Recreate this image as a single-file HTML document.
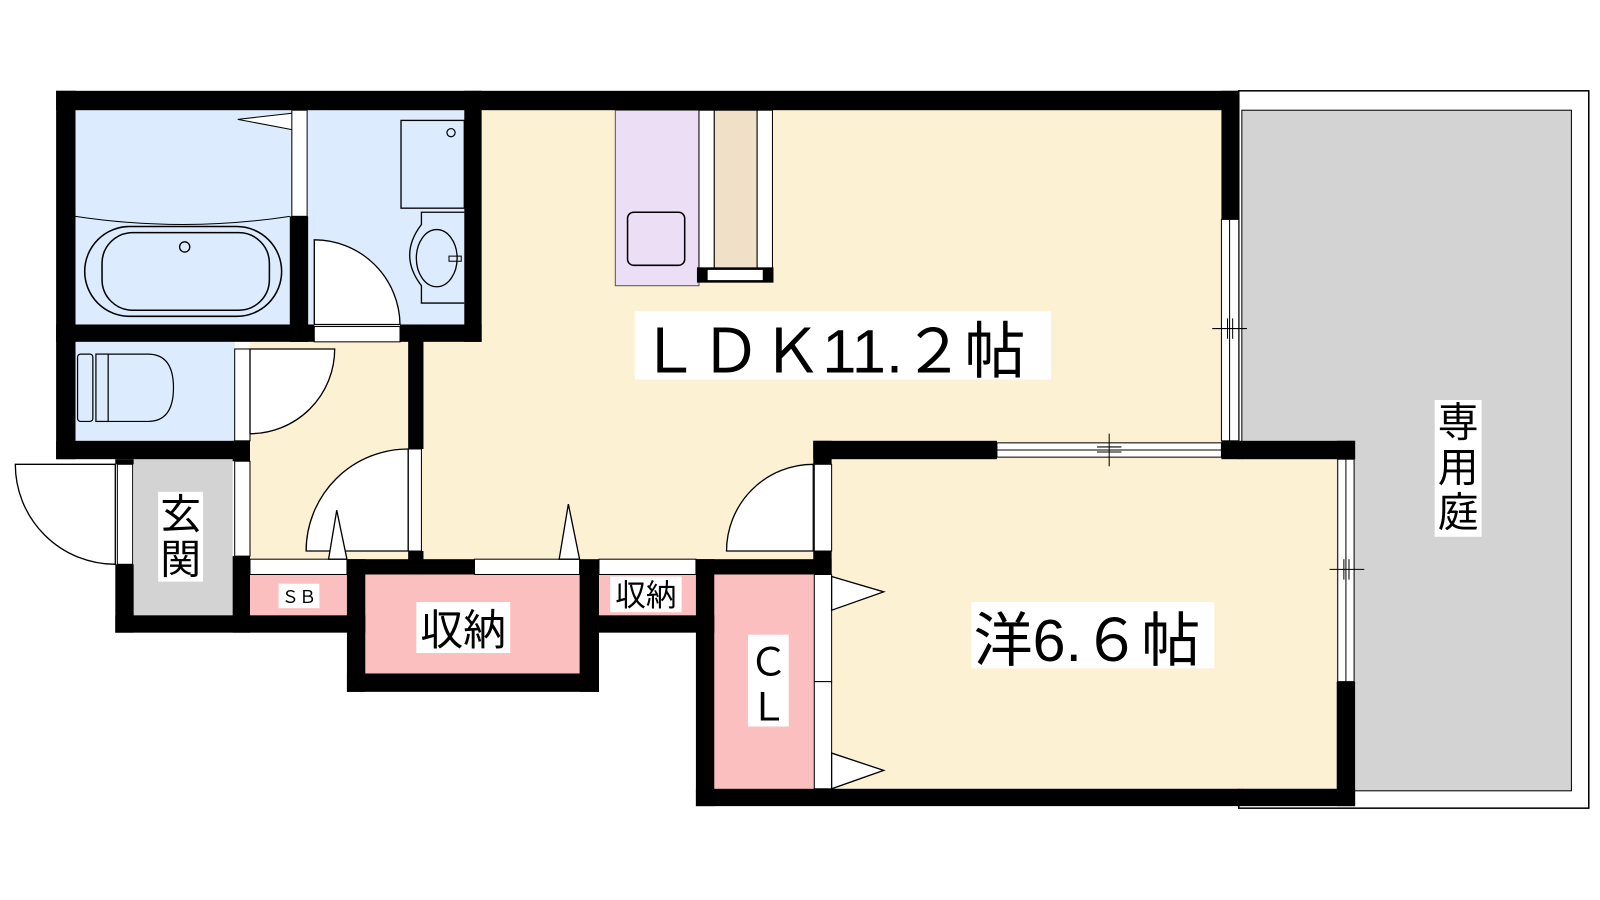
<!DOCTYPE html>
<html><head><meta charset="utf-8"><style>
html,body{margin:0;padding:0;background:#fff;width:1600px;height:900px;overflow:hidden}
svg{display:block}
text{font-family:"Liberation Sans","Noto Sans CJK JP",sans-serif;fill:#000}
</style></head><body>
<svg width="1600" height="900" viewBox="0 0 1568 882" preserveAspectRatio="none">
<!-- garden -->
<rect x="1214" y="89" width="343" height="703" fill="#fff" stroke="#000" stroke-width="1.5"/>
<rect x="1217" y="108" width="323" height="667" fill="#d3d3d3" stroke="#000" stroke-width="1"/>
<!-- floors -->
<rect x="74" y="108" width="212" height="210" fill="#dcebfd"/>
<rect x="302" y="108" width="153" height="210" fill="#dcebfd"/>
<rect x="74" y="335" width="156" height="97" fill="#dcebfd"/>
<rect x="245" y="335" width="170" height="213" fill="#fdf1d3"/>
<rect x="472" y="108" width="725" height="440" fill="#fdf1d3"/>
<rect x="415" y="335" width="60" height="213" fill="#fdf1d3"/>
<rect x="815" y="450" width="495" height="323" fill="#fdf1d3"/>
<rect x="131" y="450" width="97" height="153" fill="#d3d3d3"/>
<rect x="245" y="563" width="95" height="40" fill="#fbbfbf"/>
<rect x="358" y="563" width="210" height="97" fill="#fbbfbf"/>
<rect x="587" y="563" width="95" height="40" fill="#fbbfbf"/>
<rect x="700" y="563" width="98" height="210" fill="#fbbfbf"/>
<!-- kitchen -->
<rect x="603" y="108" width="82" height="172" fill="#ecdff5" stroke="#555" stroke-width="1"/>
<rect x="615" y="208" width="56" height="52" rx="6" fill="#ecdff5" stroke="#000" stroke-width="1.5"/>
<rect x="685" y="108" width="15" height="155" fill="#fff" stroke="#000"/>
<rect x="700" y="108" width="42" height="155" fill="#f1e0c8" stroke="#000"/>
<rect x="742" y="108" width="15" height="155" fill="#fff" stroke="#000"/>
<rect x="683" y="262" width="75" height="15" fill="#000"/>
<rect x="693" y="264" width="55" height="11" fill="#fff" stroke="#000"/>
<!-- bath fixtures -->
<path d="M74 212 Q180 228 284 212" fill="none" stroke="#000" stroke-width="1"/>
<rect x="83" y="222" width="193" height="88" rx="44" fill="none" stroke="#000" stroke-width="1.5"/>
<rect x="100" y="228" width="164" height="76" rx="30" fill="none" stroke="#000" stroke-width="1.5"/>
<circle cx="181" cy="242" r="5" fill="none" stroke="#000" stroke-width="1.3"/>
<path d="M286 111 L233 117 L286 127" fill="#fff" stroke="#000" stroke-width="1"/>
<rect x="286" y="108" width="15" height="104" fill="#fff" stroke="#000"/>
<rect x="393" y="118" width="62" height="86" fill="none" stroke="#000" stroke-width="1.3"/>
<circle cx="442" cy="130" r="4" fill="none" stroke="#000" stroke-width="1.2"/>
<path d="M455 208 L413 208 L413 220 Q390 250 413 280 L413 297 L455 297" fill="none" stroke="#000" stroke-width="1.3"/>
<ellipse cx="428" cy="253" rx="20" ry="28" fill="none" stroke="#000" stroke-width="1.3"/>
<rect x="440" y="251" width="12" height="5" fill="none" stroke="#000"/>
<!-- toilet -->
<rect x="76" y="347" width="15" height="66" rx="3" fill="none" stroke="#000" stroke-width="1.2"/>
<rect x="94" y="347" width="12" height="66" fill="none" stroke="#000" stroke-width="1.2"/>
<path d="M106 347 L145 347 Q170 347 170 380 Q170 413 145 413 L106 413" fill="none" stroke="#000" stroke-width="1.2"/>
<!-- walls -->
<g fill="#000">
<rect x="55" y="89" width="1159" height="19"/>
<rect x="55" y="89" width="19" height="361"/>
<rect x="284" y="212" width="18" height="123"/>
<rect x="455" y="89" width="17" height="246"/>
<rect x="55" y="318" width="253" height="17"/>
<rect x="392" y="318" width="80" height="17"/>
<rect x="400" y="318" width="15" height="122"/>
<rect x="55" y="432" width="190" height="18"/>
<rect x="228" y="432" width="17" height="20"/>
<rect x="113" y="450" width="18" height="5"/>
<rect x="113" y="553" width="18" height="67"/>
<rect x="228" y="545" width="17" height="75"/>
<rect x="113" y="603" width="245" height="17"/>
<rect x="400" y="540" width="15" height="23"/>
<rect x="340" y="548" width="125" height="15"/>
<rect x="340" y="548" width="18" height="130"/>
<rect x="340" y="660" width="247" height="18"/>
<rect x="568" y="548" width="19" height="130"/>
<rect x="587" y="603" width="113" height="17"/>
<rect x="682" y="548" width="133" height="15"/>
<rect x="682" y="548" width="18" height="242"/>
<rect x="682" y="773" width="646" height="17"/>
<rect x="797" y="432" width="180" height="18"/>
<rect x="797" y="432" width="18" height="23"/>
<rect x="797" y="540" width="18" height="23"/>
<rect x="1197" y="432" width="131" height="18"/>
<rect x="1310" y="668" width="18" height="122"/>
<rect x="1310" y="432" width="18" height="18"/>
<rect x="1197" y="89" width="17" height="126"/>
</g>
<!-- door strips -->
<g fill="#fff" stroke="#000" stroke-width="1">
<rect x="308" y="320" width="84" height="15"/>
<rect x="230" y="342" width="15" height="90"/>
<rect x="115" y="455" width="15" height="98"/>
<rect x="230" y="452" width="15" height="93"/>
<rect x="400" y="440" width="13" height="100"/>
<rect x="245" y="548" width="95" height="15"/>
<rect x="465" y="548" width="103" height="15"/>
<rect x="587" y="548" width="95" height="15"/>
<rect x="798" y="455" width="17" height="85"/>
<rect x="798" y="563" width="17" height="105"/>
<rect x="798" y="668" width="17" height="105"/>
<rect x="1197" y="215" width="17" height="217"/>
<rect x="977" y="434" width="220" height="14"/>
<rect x="1311" y="450" width="16" height="218"/>
</g>
<g stroke="#000" stroke-width="1" fill="none">
<line x1="1205" y1="215" x2="1205" y2="432"/>
<line x1="977" y1="441" x2="1197" y2="441"/>
<line x1="1319" y1="450" x2="1319" y2="668"/>
<line x1="1188" y1="322" x2="1222" y2="322"/><line x1="1203" y1="312" x2="1203" y2="332"/><line x1="1208" y1="312" x2="1208" y2="332"/>
<line x1="1087" y1="425" x2="1087" y2="457"/><line x1="1075" y1="438" x2="1099" y2="438"/><line x1="1075" y1="443" x2="1099" y2="443"/>
<line x1="1303" y1="558" x2="1337" y2="558"/><line x1="1317" y1="548" x2="1317" y2="568"/><line x1="1322" y1="548" x2="1322" y2="568"/>
</g>
<!-- door swings -->
<g fill="#fff" stroke="#000" stroke-width="1.3">
<path d="M308 318 L308 235 A84 84 0 0 1 392 318 Z"/>
<path d="M245 342 L328 342 A83 83 0 0 1 245 425 Z"/>
<path d="M113 455 L15 455 A98 98 0 0 0 113 553 Z"/>
<path d="M400 440 A100 100 0 0 0 300 540 L400 540 Z"/>
<path d="M797 455 A85 85 0 0 0 712 540 L797 540 Z"/>
<path d="M322 548 L330 500 L340 548 Z"/>
<path d="M548 548 L557 494 L568 548 Z"/>
<path d="M815 565 L866 580 L815 598 Z"/>
<path d="M815 738 L866 755 L815 773 Z"/>
</g>
<!-- labels -->
<rect x="622" y="305" width="408" height="67" fill="#fff"/>
<text x="626" y="365" font-size="60">ＬＤＫ11.２帖</text>
<rect x="952" y="590" width="238" height="65" fill="#fff"/>
<text x="954" y="648" font-size="58">洋6.６帖</text>
<rect x="1406" y="392" width="46" height="134" fill="#fff"/>
<text x="1429" y="428" font-size="40" text-anchor="middle">専</text>
<text x="1429" y="472" font-size="40" text-anchor="middle">用</text>
<text x="1429" y="516" font-size="40" text-anchor="middle">庭</text>
<rect x="155" y="482" width="44" height="88" fill="#fff"/>
<text x="177" y="518" font-size="40" text-anchor="middle">玄</text>
<text x="177" y="562" font-size="40" text-anchor="middle">関</text>
<rect x="408" y="590" width="92" height="50" fill="#fff"/>
<text x="454" y="632" font-size="42" text-anchor="middle">収納</text>
<rect x="598" y="565" width="70" height="35" fill="#fff"/>
<text x="633" y="594" font-size="30" text-anchor="middle">収納</text>
<rect x="273" y="572" width="40" height="24" fill="#fff"/>
<text x="293" y="591" font-size="17" text-anchor="middle">ＳＢ</text>
<rect x="733" y="622" width="40" height="90" fill="#fff"/>
<text x="753" y="662" font-size="38" text-anchor="middle">Ｃ</text>
<text x="753" y="706" font-size="38" text-anchor="middle">Ｌ</text>
</svg>
</body></html>
